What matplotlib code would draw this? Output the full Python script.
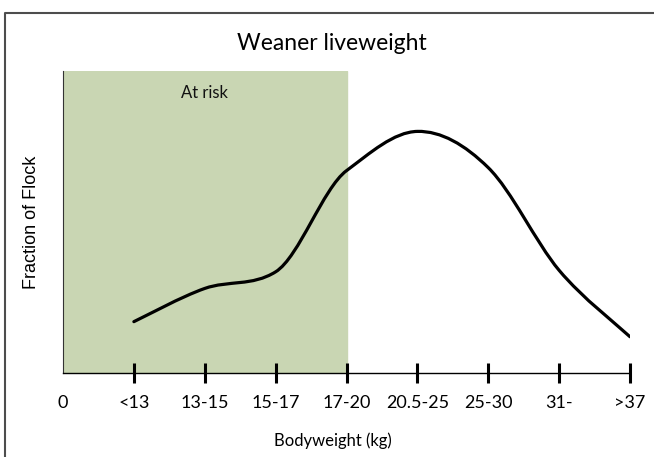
import numpy as np
import matplotlib.pyplot as plt
from matplotlib.path import Path
from matplotlib.patches import PathPatch
from matplotlib.lines import Line2D

categories = ["0", "<13", "13-15", "15-17", "17-20", "20.5-25", "25-30", "31-", ">37"]
# fraction of flock (relative) for each class after "0"
flock = [0.17, 0.28, 0.335, 0.67, 0.80, 0.68, 0.34, 0.12]
risk_limit = 4  # "At risk" shading ends at the 17-20 class

fig = plt.figure(figsize=(6.54, 4.57), dpi=100)
ax = fig.add_axes([63/654, 84/457, 567/654, 302/457])

xs = np.arange(1, len(flock) + 1)
ys = np.array(flock)

# smooth line through the points (cardinal spline -> bezier)
# slightly tighter bends on the left part of the curve
k = [1/6, 1/6, 1/8, 1/8, 1/6, 1/6, 1/6, 1/6]
verts = [(xs[0], ys[0])]
codes = [Path.MOVETO]
n = len(xs)
for i in range(n - 1):
    x0, y0 = (xs[i-1], ys[i-1]) if i > 0 else (xs[i], ys[i])
    x1, y1 = xs[i], ys[i]
    x2, y2 = xs[i+1], ys[i+1]
    x3, y3 = (xs[i+2], ys[i+2]) if i + 2 < n else (xs[i+1], ys[i+1])
    c1 = (x1 + (x2 - x0) / 6, y1 + (y2 - y0) * k[i])
    c2 = (x2 - (x3 - x1) / 6, y2 - (y3 - y1) * k[i+1])
    verts += [c1, c2, (x2, y2)]
    codes += [Path.CURVE4] * 3
ax.add_patch(PathPatch(Path(verts, codes), fill=False, lw=2.3, color='black',
                       capstyle='round', zorder=3))

ax.axvspan(0, risk_limit, color='#c9d6b3', zorder=0)
ax.text(2, 0.927, "At risk", ha='center', va='center', fontsize=12,
        family='Lato', color='#111111')

ax.set_xlim(0, 8)
ax.set_ylim(0, 1)
ax.set_xticks(range(len(categories)))
ax.set_xticklabels(categories, family='Lato', fontsize=13)
ax.tick_params(axis='x', direction='inout', length=14, width=2.2, pad=9)
ax.xaxis.get_major_ticks()[0].tick1line.set_visible(False)
ax.set_yticks([])
for s in ['top', 'right']:
    ax.spines[s].set_visible(False)
ax.spines['bottom'].set_linewidth(1.0)
ax.spines['left'].set_linewidth(0.8)
ax.spines['left'].set_color('#333333')

fig.text(333/654, 1 - 446/457, "Bodyweight (kg)", ha='center', va='baseline',
         family='Lato', fontsize=12)
fig.text(32/654, 1 - 222/457, "Fraction of Flock", rotation=90, ha='center',
         va='center', family='Liberation Sans', fontsize=13)
fig.text(332/654, 1 - 50/457, "Weaner liveweight", ha='center', va='baseline',
         family='Lato', fontsize=16.5)

# outer frame (top and left edges visible)
fig.add_artist(Line2D([5/654, 5/654, 1], [0, 1 - 13/457, 1 - 13/457],
                      transform=fig.transFigure, color='#4d4d4d', lw=1.5))

fig.savefig("out.png", dpi=100)
